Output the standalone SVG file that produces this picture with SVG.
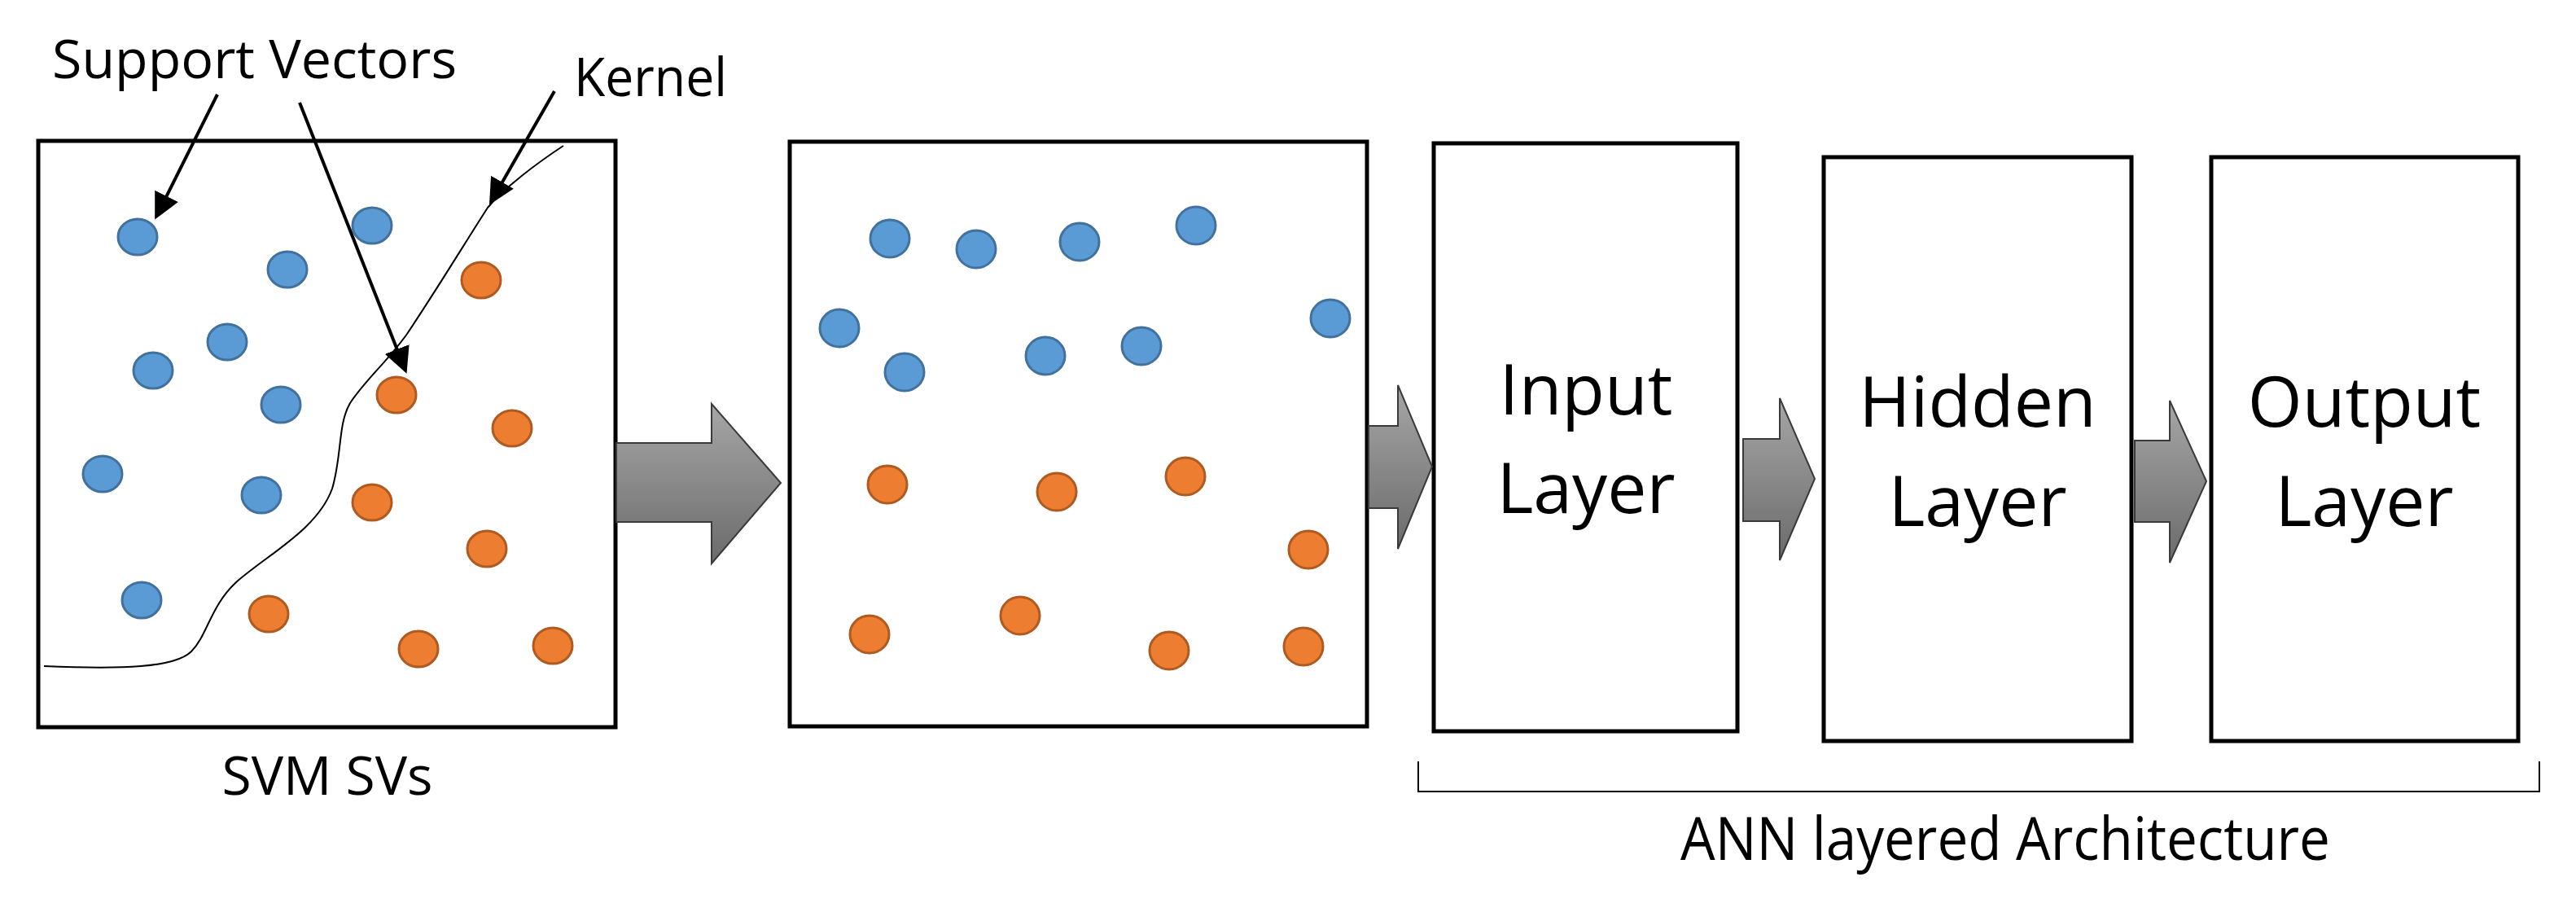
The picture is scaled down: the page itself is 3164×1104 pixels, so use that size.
<svg xmlns="http://www.w3.org/2000/svg" width="3164" height="1104" viewBox="0 0 3164 1104">
<defs>
<linearGradient id="g" x1="0" y1="0" x2="0" y2="1"><stop offset="0" stop-color="#a6a6a6"/><stop offset="1" stop-color="#6b6b6b"/></linearGradient>
<marker id="ah" markerWidth="8" markerHeight="8" refX="7" refY="4" orient="auto" markerUnits="strokeWidth"><path d="M0,0 L8,4 L0,8 z" fill="#000"/></marker>
<style>
.box{fill:#fff;stroke:#000;stroke-width:5}
.b{fill:#5B9BD5;stroke:#41719C;stroke-width:3}
.o{fill:#ED7D31;stroke:#AE5A21;stroke-width:3}
.t{font-family:"Open Sans","Liberation Sans",sans-serif;fill:#000}
.ar{fill:url(#g);stroke:#3a3a3a;stroke-width:2}
.ln{stroke:#000;stroke-width:4;fill:none;marker-end:url(#ah)}
</style>
</defs>
<rect width="3164" height="1104" fill="#fff"/>
<g id="svm">
<rect class="box" x="47" y="173" width="709" height="720"/>
<path d="M54,818 C150,822 215,820 235,800 C255,780 258,745 290,715 C330,680 390,650 408,600 C420,560 415,520 430,495 C450,465 475,445 500,410 C540,350 570,300 599,255 C620,230 660,200 692,179" fill="none" stroke="#000" stroke-width="2"/>
<ellipse class="b" cx="169" cy="291" rx="24" ry="22"/>
<ellipse class="b" cx="457" cy="277" rx="24" ry="22"/>
<ellipse class="b" cx="353" cy="331" rx="24" ry="22"/>
<ellipse class="b" cx="279" cy="420" rx="24" ry="22"/>
<ellipse class="b" cx="188" cy="455" rx="24" ry="22"/>
<ellipse class="b" cx="345" cy="497" rx="24" ry="22"/>
<ellipse class="b" cx="126" cy="582" rx="24" ry="22"/>
<ellipse class="b" cx="321" cy="608" rx="24" ry="22"/>
<ellipse class="b" cx="174" cy="737" rx="24" ry="22"/>
<ellipse class="o" cx="591" cy="344" rx="24" ry="22"/>
<ellipse class="o" cx="487" cy="485" rx="24" ry="22"/>
<ellipse class="o" cx="629" cy="526" rx="24" ry="22"/>
<ellipse class="o" cx="457" cy="617" rx="24" ry="22"/>
<ellipse class="o" cx="598" cy="674" rx="24" ry="22"/>
<ellipse class="o" cx="330" cy="754" rx="24" ry="22"/>
<ellipse class="o" cx="514" cy="797" rx="24" ry="22"/>
<ellipse class="o" cx="679" cy="793" rx="24" ry="22"/>
<text class="t" x="402" y="976" font-size="66" text-anchor="middle">SVM SVs</text>
</g>
<g id="labels">
<text class="t" x="64" y="96" font-size="66" textLength="497" lengthAdjust="spacingAndGlyphs">Support Vectors</text>
<text class="t" x="705" y="118" font-size="66" textLength="188" lengthAdjust="spacingAndGlyphs">Kernel</text>
</g>
<g id="mapped">
<rect class="box" x="970" y="174" width="709" height="718"/>
<ellipse class="b" cx="1093" cy="293" rx="24" ry="23"/>
<ellipse class="b" cx="1199" cy="306" rx="24" ry="23"/>
<ellipse class="b" cx="1326" cy="297" rx="24" ry="23"/>
<ellipse class="b" cx="1469" cy="277" rx="24" ry="23"/>
<ellipse class="b" cx="1031" cy="403" rx="24" ry="23"/>
<ellipse class="b" cx="1111" cy="457" rx="24" ry="23"/>
<ellipse class="b" cx="1284" cy="437" rx="24" ry="23"/>
<ellipse class="b" cx="1402" cy="425" rx="24" ry="23"/>
<ellipse class="b" cx="1634" cy="391" rx="24" ry="23"/>
<ellipse class="o" cx="1090" cy="595" rx="24" ry="23"/>
<ellipse class="o" cx="1298" cy="604" rx="24" ry="23"/>
<ellipse class="o" cx="1456" cy="585" rx="24" ry="23"/>
<ellipse class="o" cx="1607" cy="675" rx="24" ry="23"/>
<ellipse class="o" cx="1068" cy="779" rx="24" ry="23"/>
<ellipse class="o" cx="1253" cy="756" rx="24" ry="23"/>
<ellipse class="o" cx="1436" cy="799" rx="24" ry="23"/>
<ellipse class="o" cx="1601" cy="794" rx="24" ry="23"/>
</g>
<g id="input">
<rect class="box" x="1761" y="176" width="373" height="722"/>
<text class="t" x="1948" y="509" font-size="86" text-anchor="middle">Input</text>
<text class="t" x="1948" y="630" font-size="86" text-anchor="middle">Layer</text>
</g>
<g id="hidden">
<rect class="box" x="2240" y="193" width="378" height="717"/>
<text class="t" x="2429" y="524" font-size="86" text-anchor="middle">Hidden</text>
<text class="t" x="2429" y="646" font-size="86" text-anchor="middle">Layer</text>
</g>
<g id="output">
<rect class="box" x="2716" y="193" width="377" height="717"/>
<text class="t" x="2904" y="524" font-size="86" text-anchor="middle">Output</text>
<text class="t" x="2904" y="646" font-size="86" text-anchor="middle">Layer</text>
</g>
<g id="connectors">
<path class="ln" d="M267,116 L192,266"/>
<path class="ln" d="M368,126 L498,455"/>
<path class="ln" d="M681,112 L603,248"/>
<path class="ar" d="M757,544 L874,544 L874,496 L959,593 L874,692 L874,641 L757,641 Z"/>
<path class="ar" d="M1681,523 L1717,523 L1717,473 L1759,573 L1717,674 L1717,624 L1681,624 Z"/>
<path class="ar" d="M2141,539 L2186,539 L2186,489 L2229,588 L2186,688 L2186,640 L2141,640 Z"/>
<path class="ar" d="M2622,541 L2665,541 L2665,492 L2710,591 L2665,691 L2665,641 L2622,641 Z"/>
<path d="M1742,935 L1742,972 L3119,972 L3119,935" fill="none" stroke="#000" stroke-width="2"/>
</g>
<g id="ann-label">
<text class="t" x="2463" y="1056" font-size="74" text-anchor="middle" textLength="798" lengthAdjust="spacingAndGlyphs">ANN layered Architecture</text>
</g>
</svg>
